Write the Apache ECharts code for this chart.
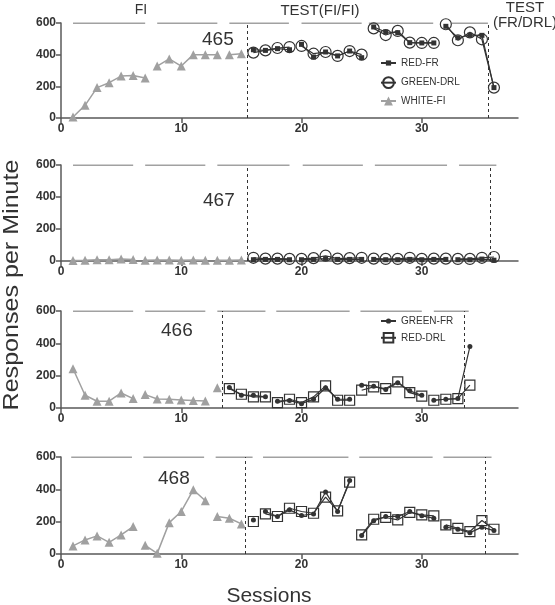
<!DOCTYPE html>
<html><head><meta charset="utf-8">
<script src="https://cdn.jsdelivr.net/npm/echarts@6/dist/echarts.min.js"></script>
<style>html,body{margin:0;padding:0;background:#fff}#c{width:555px;height:605px}</style>
</head><body><div id="c"></div>
<script>
// ---------- DATA ----------
// Panel 465 (sessions 1-15 FI, 16-36 test)
const p465_fi = [6, 80, 192, 223, 265, 269, 253, 328, 373, 328, 400, 400, 400, 400, 406];
const p465_fiBreaks = [7, 13];
const p465_red = [431, 427, 438, 431, 465, 385, 417, 392, 423, 381, 575, 543, 539, 476, 474, 474, 579, 507, 524, 522, 192];
const p465_green = [413, 427, 442, 448, 455, 406, 417, 392, 423, 400, 566, 524, 550, 476, 474, 474, 592, 491, 541, 497, 192];
const p465_testBreaks = [19, 25, 31];
const p465_blocks = [[1, 7], [8, 13], [14, 18.95], [20, 25], [25.6, 30.95], [32.5, 35.5]];
const p465_phases = [15.5, 35.5];

// Panel 467
const p467_fi = [3, 5, 8, 8, 12, 10, 5, 6, 6, 5, 6, 5, 5, 5, 6];
const p467_fiBreaks = [6, 12];
const p467_red = [8, 10, 10, 8, 8, 10, 15, 10, 10, 10, 10, 8, 8, 10, 8, 10, 10, 8, 8, 12, 5];
const p467_green = [20, 15, 15, 13, 13, 18, 33, 15, 18, 20, 15, 13, 13, 20, 13, 15, 15, 13, 13, 20, 25];
const p467_testBreaks = [19, 25, 32];
const p467_blocks = [[1, 6], [7, 12], [13, 19], [20.1, 25.1], [26.1, 32.1], [33.1, 36.2]];
const p467_phases = [15.5, 35.7];

// Panel 466 (sessions 1-13 FI, 14-34 test)
const p466_fi = [243, 79, 42, 42, 93, 58, 83, 56, 54, 50, 46, 44, 125];
const p466_fiBreaks = [6, 12];
const p466_greenFR = [127, 79, 79, 69, 42, 46, 27, 54, 125, 54, 54, 141, 135, 114, 156, 106, 79, 48, 54, 58, 380];
const p466_redDRL = [120, 85, 69, 69, 33, 54, 33, 69, 137, 48, 48, 110, 131, 120, 162, 95, 73, 48, 54, 58, 141];
const p466_testBreaks = [17, 24, 30];
const p466_blocks = [[1, 6], [7, 12], [13, 17], [17.9, 24], [24.9, 30], [31, 33.9]];
const p466_phases = [13.4, 33.5];

// Panel 468 (sessions 1-15 FI, 16-36 test)
const p468_fi = [50, 87, 112, 72, 118, 170, 54, 4, 194, 263, 397, 329, 232, 221, 186];
const p468_fiBreaks = [6, 12];
const p468_greenFR = [211, 263, 232, 273, 238, 248, 383, 263, 455, 114, 205, 232, 232, 263, 236, 221, 166, 153, 132, 166, 145];
const p468_redDRL = [201, 248, 232, 283, 263, 252, 352, 267, 445, 118, 215, 226, 211, 257, 242, 236, 180, 159, 139, 207, 153];
const p468_testBreaks = [16, 24, 31];
const p468_blocks = [[0.85, 5.9], [6.85, 11.9], [12.86, 15.93], [16.8, 23.9], [24.8, 30.9], [31.8, 35.8]];
const p468_phases = [15.3, 35.3];

const xTicks = [0, 10, 20, 30];
const yTicks = [0, 200, 400, 600];

// ---------- HELPERS ----------
function build(start, vals, breaks) {
  const out = [];
  vals.forEach((v, i) => {
    const s = start + i;
    out.push([s, v]);
    if (breaks.indexOf(s) >= 0 && i < vals.length - 1) out.push([s + 0.5, '-']);
  });
  return out;
}
function blockLine(blocks) {
  const out = [];
  blocks.forEach((b, i) => {
    out.push([b[0], 600], [b[1], 600]);
    if (i < blocks.length - 1) out.push([(b[1] + blocks[i + 1][0]) / 2, '-']);
  });
  return out;
}
const FONT = '"Liberation Sans", Arial, Helvetica, sans-serif';
const DARK = '#333';
const GRAY = '#a0a0a0';
const AX = '#5a5a5a';

const grids = [
  { left: 61, top: 23, width: 457, height: 95 },
  { left: 61, top: 165, width: 457, height: 96 },
  { left: 61, top: 311, width: 457, height: 97 },
  { left: 61, top: 457, width: 457, height: 97 }
];

const xAxes = grids.map((g, i) => ({
  type: 'value', gridIndex: i, min: 0, max: 38,
  axisLine: { show: true, lineStyle: { color: AX, width: 1.5 } },
  axisTick: { show: true, length: 5, customValues: xTicks, lineStyle: { color: AX, width: 1.5 } },
  axisLabel: { customValues: xTicks, fontFamily: FONT, fontWeight: 'bold', fontSize: 12, color: DARK, margin: 5 },
  splitLine: { show: false }
}));
const yAxes = grids.map((g, i) => ({
  type: 'value', gridIndex: i, min: 0, max: 600, interval: 200,
  axisLine: { show: true, lineStyle: { color: AX, width: 1.5 } },
  axisTick: { show: true, length: 5, lineStyle: { color: AX, width: 1.5 } },
  axisLabel: { fontFamily: FONT, fontWeight: 'bold', fontSize: 12, color: DARK, margin: 5 },
  splitLine: { show: false }
}));

function segSeries(i, blocks, phases) {
  return {
    type: 'line', xAxisIndex: i, yAxisIndex: i, data: blockLine(blocks),
    symbol: 'none', silent: true, lineStyle: { color: '#444', width: 1 },
    markLine: {
      silent: true, symbol: 'none', label: { show: false },
      lineStyle: { color: DARK, type: [3, 3], width: 1 },
      data: phases.map(p => ({ xAxis: p }))
    }
  };
}
function fiSeries(i, start, vals, breaks) {
  return {
    name: 'WHITE-FI', type: 'line', xAxisIndex: i, yAxisIndex: i,
    data: build(start, vals, breaks), symbol: 'triangle', symbolSize: 9,
    itemStyle: { color: GRAY }, lineStyle: { color: GRAY, width: 1.5 }
  };
}
function openSeries(name, sym, size, i, start, vals, breaks) {
  return {
    name, type: 'line', xAxisIndex: i, yAxisIndex: i, data: build(start, vals, breaks),
    symbol: sym, symbolSize: size,
    itemStyle: { color: 'rgba(255,255,255,0)', borderColor: DARK, borderWidth: 1.2 },
    lineStyle: { color: DARK, width: 1.2 }
  };
}
function filledSeries(name, sym, size, i, start, vals, breaks) {
  return {
    name, type: 'line', xAxisIndex: i, yAxisIndex: i, data: build(start, vals, breaks),
    symbol: sym, symbolSize: size,
    itemStyle: { color: DARK }, lineStyle: { color: DARK, width: 1.2 }
  };
}

const series = [
  segSeries(0, p465_blocks, p465_phases),
  fiSeries(0, 1, p465_fi, p465_fiBreaks),
  openSeries('GREEN-DRL', 'circle', 11, 0, 16, p465_green, p465_testBreaks),
  filledSeries('RED-FR', 'rect', 5, 0, 16, p465_red, p465_testBreaks),

  segSeries(1, p467_blocks, p467_phases),
  fiSeries(1, 1, p467_fi, p467_fiBreaks),
  openSeries('GREEN-DRL', 'circle', 11, 1, 16, p467_green, p467_testBreaks),
  filledSeries('RED-FR', 'rect', 5, 1, 16, p467_red, p467_testBreaks),

  segSeries(2, p466_blocks, p466_phases),
  fiSeries(2, 1, p466_fi, p466_fiBreaks),
  openSeries('RED-DRL', 'rect', 10, 2, 14, p466_redDRL, p466_testBreaks),
  filledSeries('GREEN-FR', 'circle', 5, 2, 14, p466_greenFR, p466_testBreaks),

  segSeries(3, p468_blocks, p468_phases),
  fiSeries(3, 1, p468_fi, p468_fiBreaks),
  openSeries('RED-DRL', 'rect', 10, 3, 16, p468_redDRL, p468_testBreaks),
  filledSeries('GREEN-FR', 'circle', 5, 3, 16, p468_greenFR, p468_testBreaks)
];

const txt = (x, y, text, size, extra) => ({
  type: 'text', x, y, silent: true,
  style: Object.assign({ text, fontFamily: FONT, fontSize: size, fill: DARK, align: 'left', verticalAlign: 'middle' }, extra || {})
});

function legendItem(name, rowY, iconH) {
  return {
    orient: 'vertical', left: 380, top: rowY - Math.max(iconH, 12) / 2,
    itemWidth: 15, itemHeight: iconH, selectedMode: false, padding: 0,
    data: [name],
    textStyle: { fontFamily: FONT, fontSize: 10, color: DARK }
  };
}

const chart = echarts.init(document.getElementById('c'), null, { renderer: 'canvas' });
chart.setOption({
  animation: false,
  backgroundColor: '#fff',
  grid: grids,
  xAxis: xAxes,
  yAxis: yAxes,
  legend: [
    legendItem('RED-FR', 64, 6.5),
    legendItem('GREEN-DRL', 83, 13.5),
    legendItem('WHITE-FI', 102, 11),
    legendItem('GREEN-FR', 322, 6.5),
    legendItem('RED-DRL', 338, 12)
  ],
  series,
  graphic: [
    txt(141, 10, 'FI', 14, { align: 'center' }),
    txt(320, 11, 'TEST(FI/FI)', 15, { align: 'center' }),
    txt(525, 8, 'TEST', 15, { align: 'center' }),
    txt(525, 23, '(FR/DRL)', 15, { align: 'center' }),
    txt(202, 40, '465', 19),
    txt(203, 201, '467', 19),
    txt(161, 331, '466', 19),
    txt(158, 479, '468', 19),
    txt(269, 596, 'Sessions', 21, { align: 'center' }),
    {
      type: 'text', x: 12, y: 285, rotation: Math.PI / 2, scaleX: 1.14, silent: true,
      style: { text: 'Responses per Minute', fontFamily: FONT, fontSize: 22, fill: DARK, align: 'center', verticalAlign: 'middle' }
    }
  ]
});
</script></body></html>
